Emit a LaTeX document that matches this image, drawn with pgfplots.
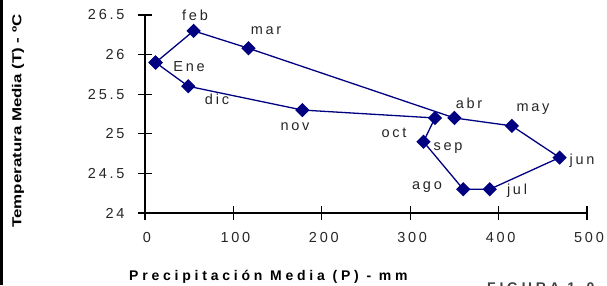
\documentclass[border=0pt]{standalone}
\usepackage{pgfplots}
\pgfplotsset{compat=1.18}
\usepackage{fontspec}
\setmainfont{Liberation Sans}
\newfontfamily\spaced[LetterSpace=19]{Liberation Sans}
\newfontfamily\spacedb[LetterSpace=27]{Liberation Sans Bold}
\definecolor{navy}{RGB}{0,0,128}
\begin{document}
\begin{tikzpicture}[x=1pt,y=1pt]
\clip (0,0) rectangle (607,285);
\useasboundingbox (0,0) rectangle (607,285);
\begin{axis}[
  at={(145pt,72pt)}, anchor=south west,
  scale only axis, width=442pt, height=198pt,
  xmin=0, xmax=500, ymin=24, ymax=26.5,
  axis x line=bottom, axis y line=left,
  axis line style={line width=1.3pt,-},
  tick style={line width=1.3pt,black},
  tick align=center, major tick length=14pt,
  xtick={0,100,...,500}, ytick={24,24.5,...,26.5},
  xticklabels={0,100,200,300,400,500},
  yticklabels={24,24.5,25,25.5,26,26.5},
  ticklabel style={font=\spaced\fontsize{14.5}{16}\selectfont, text=black!85},
  xticklabel style={yshift=-9pt, xshift=2pt},
  yticklabel style={xshift=-10pt},
  clip=false,
]
\addplot[navy, line width=1.3pt, mark=square*, mark size=4.4pt,
  mark options={rotate=45, fill=navy, draw=navy}] coordinates {
(12,25.9) (55,26.3) (117,26.08) (350,25.2) (415,25.1) (469,24.7)
(390,24.3) (360,24.3) (315,24.9) (328,25.2) (178,25.3) (49,25.6) (12,25.9)
};
\end{axis}
\begin{scope}[every node/.style={font=\spaced\fontsize{14.5}{16}\selectfont, inner sep=0pt, text=black!85}]
\node at (195,270) {feb};
\node at (266,254) {mar};
\node at (189,218) {Ene};
\node at (217,186) {dic};
\node at (295,158) {nov};
\node at (394,152) {oct};
\node at (448,137) {sep};
\node at (427,98) {ago};
\node at (517,94) {jul};
\node at (582,124) {jun};
\node at (533,176) {may};
\node at (469,182) {abr};
\end{scope}
\node[rotate=90, font=\bfseries\fontsize{13}{15}\selectfont, inner sep=0pt] at (18,164) {\scalebox{1.3}[1]{Temperatura Media (T) - ºC}};
\node[font=\spacedb\fontsize{14}{16}\selectfont, inner sep=0pt, anchor=base west] at (129,4.5) {Precipitación Media (P) - mm};
\node[font=\spacedb\fontsize{14}{16}\selectfont, anchor=base west, inner sep=0pt, text=black!75] at (487,-7.5) {FIGURA 1.0};
\draw[line width=2.5pt] (1.25,0) -- (1.25,285);
\end{tikzpicture}
\end{document}
